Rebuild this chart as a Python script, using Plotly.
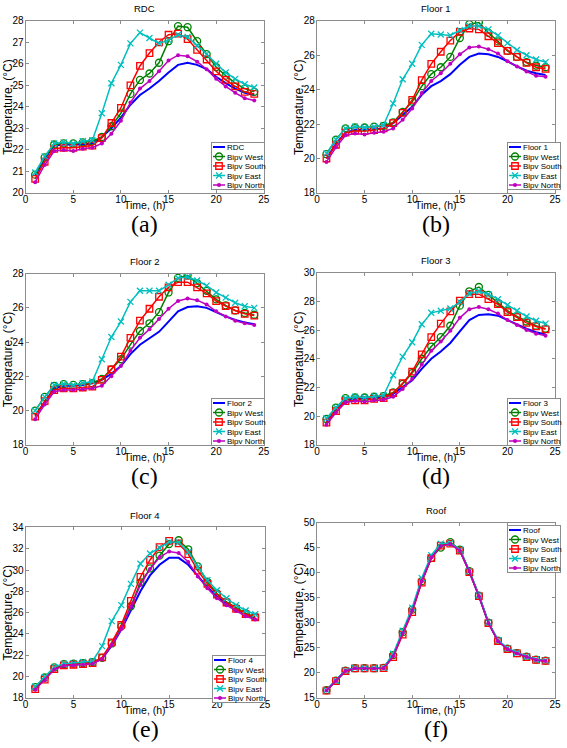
import json
import plotly.graph_objects as go

W, H = 567, 748

hours = list(range(1, 25))

# ---------------- (a) RDC ----------------
rdc_base = [20.8, 21.6, 22.2, 22.25, 22.25, 22.25, 22.3, 22.6, 23.0, 23.5, 24.1, 24.55,
            24.85, 25.2, 25.6, 25.95, 26.05, 25.95, 25.75, 25.4, 25.1, 24.85, 24.65, 24.55]
rdc_west = [20.85, 21.65, 22.25, 22.3, 22.3, 22.35, 22.4, 22.6, 23.1, 23.7, 24.6, 25.25,
            25.55, 26.05, 27.05, 27.75, 27.7, 27.05, 26.45, 25.85, 25.45, 25.1, 24.85, 24.7]
rdc_south = [20.65, 21.45, 22.05, 22.1, 22.1, 22.15, 22.2, 22.55, 23.25, 23.95, 25.0, 25.9,
             26.5, 27.0, 27.35, 27.4, 27.15, 26.65, 26.2, 25.65, 25.25, 24.95, 24.7, 24.6]
rdc_east = [20.95, 21.7, 22.3, 22.35, 22.3, 22.4, 22.45, 23.7, 25.1, 25.95, 26.95, 27.45,
            27.2, 26.95, 27.1, 27.35, 27.25, 26.85, 26.45, 26.0, 25.6, 25.3, 25.05, 24.9]
rdc_north = [20.5, 21.3, 21.95, 22.0, 21.95, 22.05, 22.1, 22.3, 22.75, 23.35, 24.2, 24.85,
             25.2, 25.65, 26.15, 26.4, 26.35, 26.1, 25.75, 25.3, 24.95, 24.65, 24.4, 24.3]

# ---------------- (b) Floor 1 ----------------
f1_base = [20.0, 20.85, 21.5, 21.65, 21.65, 21.7, 21.75, 22.05, 22.5, 23.0, 23.7, 24.2,
           24.5, 24.9, 25.45, 25.9, 26.1, 26.05, 25.9, 25.65, 25.35, 25.1, 24.95, 24.85]
f1_west = [20.25, 21.1, 21.75, 21.8, 21.8, 21.85, 21.9, 22.1, 22.7, 23.3, 24.2, 24.9,
           25.3, 25.9, 27.0, 27.8, 27.9, 27.3, 26.8, 26.25, 25.9, 25.6, 25.4, 25.3]
f1_south = [20.0, 20.8, 21.5, 21.6, 21.6, 21.65, 21.75, 22.05, 22.65, 23.4, 24.55, 25.5,
            26.2, 26.85, 27.35, 27.55, 27.5, 27.1, 26.7, 26.25, 25.9, 25.55, 25.3, 25.2]
f1_east = [20.3, 21.1, 21.75, 21.85, 21.8, 21.85, 21.95, 23.2, 24.6, 25.5, 26.6, 27.25,
           27.2, 27.15, 27.45, 27.7, 27.7, 27.5, 27.15, 26.7, 26.3, 26.0, 25.75, 25.6]
f1_north = [19.8, 20.65, 21.35, 21.45, 21.4, 21.5, 21.55, 21.75, 22.25, 22.9, 23.8, 24.5,
            24.95, 25.5, 26.05, 26.45, 26.5, 26.35, 26.1, 25.65, 25.35, 25.05, 24.8, 24.75]

# ---------------- (c) Floor 2 ----------------
f2_base = [19.7, 20.5, 21.3, 21.45, 21.45, 21.5, 21.6, 21.8, 22.15, 22.6, 23.3, 23.85,
           24.2, 24.6, 25.2, 25.8, 26.05, 26.1, 26.0, 25.75, 25.5, 25.3, 25.15, 25.05]
f2_west = [20.0, 20.8, 21.45, 21.55, 21.5, 21.55, 21.6, 21.85, 22.4, 23.0, 23.85, 24.65,
           25.1, 25.75, 26.9, 27.75, 27.9, 27.45, 27.0, 26.5, 26.15, 25.85, 25.7, 25.6]
f2_south = [19.65, 20.55, 21.2, 21.3, 21.3, 21.35, 21.4, 21.8, 22.4, 23.15, 24.25, 25.25,
            25.95, 26.65, 27.2, 27.5, 27.5, 27.2, 26.85, 26.4, 26.1, 25.85, 25.65, 25.55]
f2_east = [20.0, 20.8, 21.5, 21.55, 21.5, 21.6, 21.7, 23.0, 24.3, 25.2, 26.35, 27.0,
           27.0, 27.0, 27.35, 27.75, 27.8, 27.6, 27.3, 26.9, 26.6, 26.3, 26.1, 26.0]
f2_north = [19.5, 20.35, 21.1, 21.2, 21.2, 21.25, 21.3, 21.45, 22.0, 22.6, 23.5, 24.25,
            24.75, 25.35, 25.95, 26.4, 26.55, 26.45, 26.2, 25.8, 25.5, 25.25, 25.1, 25.0]

# ---------------- (d) Floor 3 ----------------
f3_base = [19.6, 20.4, 21.1, 21.2, 21.2, 21.25, 21.3, 21.55, 22.0, 22.5, 23.3, 24.0,
           24.5, 25.1, 25.9, 26.7, 27.05, 27.1, 27.0, 26.7, 26.35, 26.1, 25.85, 25.7]
f3_west = [19.8, 20.6, 21.25, 21.3, 21.3, 21.35, 21.4, 21.65, 22.25, 23.0, 24.0, 24.85,
           25.5, 26.3, 27.7, 28.7, 29.0, 28.45, 27.9, 27.35, 26.95, 26.6, 26.3, 26.1]
f3_south = [19.55, 20.35, 21.05, 21.1, 21.1, 21.2, 21.25, 21.6, 22.3, 23.1, 24.3, 25.5,
            26.45, 27.3, 28.05, 28.5, 28.5, 28.15, 27.8, 27.25, 26.9, 26.5, 26.25, 26.05]
f3_east = [19.85, 20.6, 21.25, 21.35, 21.3, 21.4, 21.45, 22.85, 24.15, 25.15, 26.4, 27.2,
           27.35, 27.5, 27.95, 28.55, 28.7, 28.5, 28.15, 27.75, 27.35, 26.95, 26.65, 26.45]
f3_north = [19.4, 20.25, 20.95, 21.05, 21.0, 21.1, 21.15, 21.35, 21.9, 22.6, 23.6, 24.55,
            25.2, 25.95, 26.85, 27.45, 27.6, 27.45, 27.15, 26.7, 26.35, 26.0, 25.75, 25.6]

# ---------------- (e) Floor 4 ----------------
f4_base = [18.9, 19.8, 20.75, 21.05, 21.1, 21.15, 21.25, 21.7, 22.9, 24.4, 26.2, 28.0,
           29.5, 30.5, 31.15, 31.15, 30.5, 29.4, 28.4, 27.5, 26.9, 26.3, 25.85, 25.45]
f4_west = [19.0, 19.9, 20.85, 21.15, 21.2, 21.25, 21.35, 21.75, 23.1, 24.7, 26.6, 28.85,
           30.15, 31.35, 32.45, 32.8, 31.95, 30.35, 28.9, 27.8, 27.0, 26.45, 25.95, 25.6]
f4_south = [18.8, 19.7, 20.7, 21.05, 21.1, 21.15, 21.25, 21.8, 23.2, 24.85, 27.1, 29.35,
            30.95, 32.15, 32.75, 32.5, 31.5, 29.95, 28.7, 27.7, 26.95, 26.35, 25.85, 25.55]
f4_east = [19.05, 19.95, 20.9, 21.2, 21.25, 21.35, 21.45, 22.85, 25.2, 26.7, 28.7, 30.6,
           31.55, 32.1, 32.65, 32.6, 31.7, 30.3, 29.05, 28.1, 27.35, 26.7, 26.2, 25.85]
f4_north = [18.75, 19.65, 20.65, 21.0, 21.05, 21.1, 21.2, 21.65, 22.95, 24.45, 26.55, 28.6,
            30.1, 31.2, 31.75, 31.6, 30.75, 29.4, 28.3, 27.35, 26.7, 26.15, 25.65, 25.35]

# ---------------- (f) Roof ----------------
roof_base = [16.5, 18.4, 20.4, 20.9, 20.9, 20.9, 20.95, 23.4, 28.0, 32.5, 38.4, 43.0,
             45.3, 45.9, 44.5, 40.2, 35.4, 30.0, 26.4, 24.8, 23.9, 23.2, 22.6, 22.4]
roof_west = [16.5, 18.4, 20.4, 20.9, 20.9, 20.9, 20.95, 23.5, 28.1, 32.6, 38.3, 42.9,
             45.0, 46.1, 44.6, 40.3, 35.4, 30.0, 26.4, 24.8, 23.9, 23.2, 22.6, 22.4]
roof_south = [16.4, 18.3, 20.3, 20.85, 20.85, 20.85, 20.9, 23.1, 27.6, 32.1, 38.0, 42.9,
              45.4, 45.8, 44.4, 40.1, 35.3, 29.9, 26.3, 24.7, 23.85, 23.1, 22.55, 22.35]
roof_east = [16.5, 18.4, 20.45, 20.95, 20.9, 20.9, 21.0, 23.8, 28.4, 33.0, 38.9, 43.5,
             45.8, 45.9, 44.6, 40.3, 35.5, 30.1, 26.5, 24.9, 24.0, 23.25, 22.65, 22.45]
roof_north = [16.45, 18.35, 20.35, 20.9, 20.85, 20.85, 20.9, 23.3, 27.9, 32.4, 38.3, 43.0,
              45.3, 45.7, 44.4, 40.2, 35.3, 29.9, 26.3, 24.7, 23.85, 23.15, 22.55, 22.35]

titles = ["RDC", "Floor 1", "Floor 2", "Floor 3", "Floor 4", "Roof"]
panel_labels = ["(a)", "(b)", "(c)", "(d)", "(e)", "(f)"]
series_names = ["Bipv West", "Bipv South", "Bipv East", "Bipv North"]
y_ranges = [[20, 28], [18, 28], [18, 28], [18, 30], [18, 34], [15, 50]]
y_dticks = [1, 2, 2, 2, 2, 5]
x_ticks = [0, 5, 10, 15, 20, 25]

panels = [
    [rdc_base, rdc_west, rdc_south, rdc_east, rdc_north],
    [f1_base, f1_west, f1_south, f1_east, f1_north],
    [f2_base, f2_west, f2_south, f2_east, f2_north],
    [f3_base, f3_west, f3_south, f3_east, f3_north],
    [f4_base, f4_west, f4_south, f4_east, f4_north],
    [roof_base, roof_west, roof_south, roof_east, roof_north],
]

# plot-area boxes in pixels: (left, right, top, bottom)
boxes = [
    (23, 265, 15, 190),
    (319, 561, 15, 190),
    (23, 265, 272, 446),
    (319, 561, 271, 446),
    (23, 266, 530, 703),
    (319, 561, 525, 703),
]
legend_top = [False, False, False, False, False, True]

BLUE = "#0000ff"
GREEN = "#008000"
RED = "#ff0000"
CYAN = "#00bfbf"
MAGENTA = "#bf00bf"
AXC = "#8c8c8c"
FONT = "Liberation Sans, Arial, sans-serif"

def px(x):
    return x / W

def py(y):
    return 1 - y / H

fig = go.Figure()
annotations = []

for i, data in enumerate(panels):
    n = i + 1
    xa = "x" if n == 1 else f"x{n}"
    ya = "y" if n == 1 else f"y{n}"
    lg = "legend" if n == 1 else f"legend{n}"
    base, west, south, east, north = data

    fig.add_trace(go.Scatter(x=hours, y=base, mode="lines", name=titles[i],
                             line=dict(color=BLUE, width=2),
                             xaxis=xa, yaxis=ya, legend=lg))
    fig.add_trace(go.Scatter(x=hours, y=west, mode="lines+markers", name=series_names[0],
                             line=dict(color=GREEN, width=1.5),
                             marker=dict(symbol="circle-open", size=7, color=GREEN,
                                         line=dict(width=1.3, color=GREEN)),
                             xaxis=xa, yaxis=ya, legend=lg))
    fig.add_trace(go.Scatter(x=hours, y=south, mode="lines+markers", name=series_names[1],
                             line=dict(color=RED, width=1.5),
                             marker=dict(symbol="square-open", size=6.5, color=RED,
                                         line=dict(width=1.3, color=RED)),
                             xaxis=xa, yaxis=ya, legend=lg))
    fig.add_trace(go.Scatter(x=hours, y=east, mode="lines+markers", name=series_names[2],
                             line=dict(color=CYAN, width=1.5),
                             marker=dict(symbol="x-thin-open", size=6, color=CYAN,
                                         line=dict(width=1.3, color=CYAN)),
                             xaxis=xa, yaxis=ya, legend=lg))
    fig.add_trace(go.Scatter(x=hours, y=north, mode="lines+markers", name=series_names[3],
                             line=dict(color=MAGENTA, width=1.5),
                             marker=dict(symbol="circle", size=4, color=MAGENTA),
                             xaxis=xa, yaxis=ya, legend=lg))

    l, r, t, b = boxes[i]
    xkey = "xaxis" if n == 1 else f"xaxis{n}"
    ykey = "yaxis" if n == 1 else f"yaxis{n}"
    fig.update_layout({
        xkey: dict(domain=[px(l), px(r)], anchor=ya, range=[0, 25],
                   tickvals=x_ticks, ticks="inside", ticklen=3, tickcolor=AXC,
                   showline=True, linecolor=AXC, linewidth=1, mirror="ticks",
                   showgrid=False, zeroline=False, ticklabelstandoff=-3,
                   tickfont=dict(family=FONT, size=10, color="black")),
        ykey: dict(domain=[py(b), py(t)], anchor=xa, range=y_ranges[i],
                   dtick=y_dticks[i], ticks="inside", ticklen=3, tickcolor=AXC,
                   showline=True, linecolor=AXC, linewidth=1, mirror="ticks",
                   showgrid=False, zeroline=False, ticklabelstandoff=-1,
                   tickfont=dict(family=FONT, size=10, color="black")),
    })

    # legend (initial placement; compacted after render)
    if legend_top[i]:
        leg = dict(x=px(r) - 0.001, y=py(t) - 0.001, xanchor="right", yanchor="top")
    else:
        leg = dict(x=px(r) - 0.001, y=py(b) + 0.001, xanchor="right", yanchor="bottom")
    leg.update(bgcolor="white", bordercolor=AXC, borderwidth=1,
               font=dict(family=FONT, size=8, color="black"),
               itemwidth=30, tracegroupgap=0)
    fig.update_layout({lg: leg})

    cx = (l + r) / 2
    annotations.append(dict(text=titles[i], x=px(cx), y=py(t - 12), xref="paper", yref="paper",
                            xanchor="center", yanchor="middle", showarrow=False,
                            font=dict(family=FONT, size=9.5, color="black")))
    annotations.append(dict(text="Time, (h)", x=px(cx), y=py(b + 12), xref="paper", yref="paper",
                            xanchor="center", yanchor="middle", showarrow=False,
                            font=dict(family=FONT, size=10.5, color="black")))
    annotations.append(dict(text="Temperature, (°C)", x=px(l - 18), y=py((t + b) / 2),
                            xref="paper", yref="paper", xanchor="center", yanchor="middle",
                            textangle=-90, showarrow=False,
                            font=dict(family=FONT, size=12, color="black")))
    annotations.append(dict(text=panel_labels[i], x=px(cx), y=py(b + 32), xref="paper",
                            yref="paper", xanchor="center", yanchor="middle", showarrow=False,
                            font=dict(family="Liberation Serif, Times New Roman, serif",
                                      size=24, color="black")))

fig.update_layout(
    width=W, height=H,
    margin=dict(l=0, r=0, t=0, b=0),
    paper_bgcolor="white", plot_bgcolor="white",
    annotations=annotations,
    showlegend=True,
)

# Remove page margin and compact the legends into MATLAB-like boxes
legend_specs = [[boxes[i][1], boxes[i][3], boxes[i][2], legend_top[i]] for i in range(6)]
post_js = """
document.body.style.margin = '0';
document.body.style.padding = '0';
document.documentElement.style.overflow = 'hidden';
var gd = document.getElementById('{plot_id}');
var specs = %s;
function compactLegends(){
  var names = ['legend','legend2','legend3','legend4','legend5','legend6'];
  names.forEach(function(name, i){
    try {
      var g = gd.querySelector('g.infolayer > g.' + name);
      if(!g) return;
      g.querySelectorAll('g.groups').forEach(function(gr){ gr.setAttribute('transform','translate(0,0)'); });
      var items = g.querySelectorAll('g.traces');
      var LW = 54, step = 9.5, first = 5;
      var LH = first * 2 + (items.length - 1) * step;
      items.forEach(function(it, k){
        it.setAttribute('transform', 'translate(0,' + (first + k * step) + ')');
        it.querySelectorAll('g.legendlines path').forEach(function(p){ p.setAttribute('d', 'M2,0h12'); });
        it.querySelectorAll('g.legendpoints path').forEach(function(p){ p.setAttribute('transform', 'translate(8,0)'); });
        it.querySelectorAll('text').forEach(function(t){
          t.setAttribute('x', 16);
          t.querySelectorAll('tspan').forEach(function(s){ if(s.hasAttribute('x')) s.setAttribute('x', 16); });
        });
        var tg = it.querySelector('rect.' + name + 'toggle');
        if(tg){ tg.setAttribute('x', 0); tg.setAttribute('y', -step/2); tg.setAttribute('width', LW); tg.setAttribute('height', step); }
      });
      var bg = g.querySelector('rect.bg');
      if(bg){ bg.setAttribute('x', 0.5); bg.setAttribute('y', 0.5); bg.setAttribute('width', LW - 1); bg.setAttribute('height', LH - 1); }
      var s = specs[i];
      var lx = s[0] - LW, ly = s[3] ? s[2] : s[1] - LH;
      g.setAttribute('transform', 'translate(' + lx + ',' + ly + ')');
    } catch(e) {}
  });
}
compactLegends();
gd.on('plotly_afterplot', compactLegends);
""" % json.dumps(legend_specs)

fig.write_html("out.html", post_script=post_js, config={"displayModeBar": False})
